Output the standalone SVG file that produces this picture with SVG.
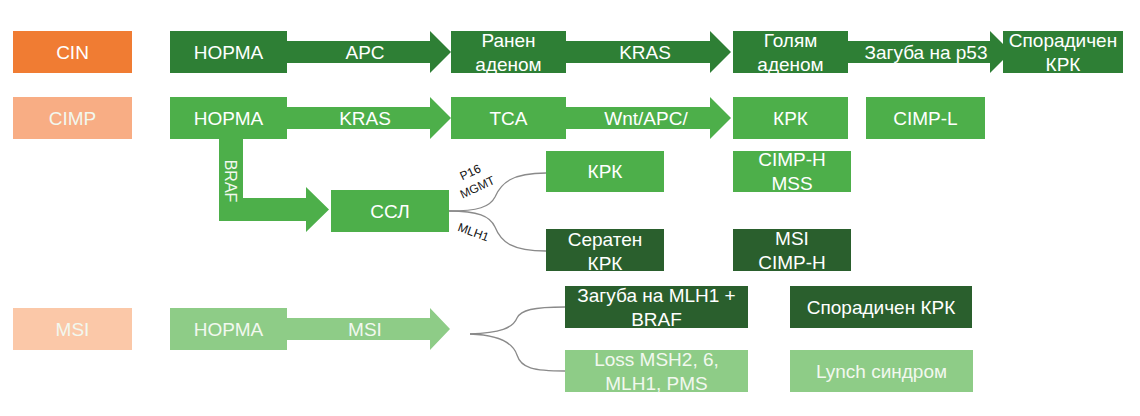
<svg xmlns="http://www.w3.org/2000/svg" width="1140" height="416" viewBox="0 0 1140 416">
<style>
text{font-family:"Liberation Sans",Arial,sans-serif;font-size:19px;fill:#ffffff;text-anchor:middle}
.cin{fill:#F07C33}.cimp{fill:#F8AD84}.msi{fill:#FBC8A8}
.g1{fill:#2E7F35}.g2{fill:#4DAF4A}.g3{fill:#8ECC87}.gd{fill:#2A5F2D}
.lt{fill:#F2F8EF}
.curve{fill:none;stroke:#8A8A8A;stroke-width:1.3}
.sm{font-size:12px;fill:#111111}
</style>
<rect width="1140" height="416" fill="#ffffff"/>
<g id="connectors">
<polygon class="g1" points="280,41 430,41 430,31 451,52 430,73 430,63 280,63"/>
<polygon class="g1" points="560,41 710,41 710,31 731,52 710,73 710,63 560,63"/>
<polygon class="g1" points="845,41 990,41 990,31 1011,52 990,73 990,63 845,63"/>
<polygon class="g2" points="280,107 430,107 430,97 451,118 430,139 430,129 280,129"/>
<polygon class="g2" points="560,107 710,107 710,97 731,118 710,139 710,129 560,129"/>
<polygon class="g2" points="219,135 243,135 243,198 306,198 306,187 329,209.5 306,232 306,221 219,221"/>
<polygon class="g3" points="280,318 430,318 430,308 450,329 430,350 430,340 280,340"/>
<path class="curve" d="M449,211 C478,211 490,207 495,197 C501,183 512,173 546,173"/>
<path class="curve" d="M449,211 C478,211 490,216 495,227 C501,242 512,251 546,251"/>
<path class="curve" d="M470,334 C500,333 513,328 517,318 C521,310 533,307 565,307"/>
<path class="curve" d="M470,334 C500,335 513,343 517,355 C521,368 533,371 565,371"/>
<text x="365" y="59">APC</text>
<text x="645" y="59">KRAS</text>
<text x="926" y="59">Загуба на p53</text>
<text x="365" y="125">KRAS</text>
<text x="646" y="125">Wnt/APC/</text>
<text class="lt" x="365" y="336">MSI</text>
<text class="lt" transform="translate(225,181) rotate(90)" style="font-size:16px">BRAF</text>
<text class="sm" transform="translate(472,176) rotate(-25)">P16</text>
<text class="sm" transform="translate(479,191) rotate(-25)">MGMT</text>
<text class="sm" transform="translate(472,236) rotate(20)">MLH1</text>
</g>
<g id="cin"><rect class="cin" x="13" y="31" width="119" height="42"/><text x="72.5" y="59">CIN</text></g>
<g id="cimp"><rect class="cimp" x="13" y="97" width="119" height="42"/><text class="lt" x="72.5" y="125">CIMP</text></g>
<g id="msi"><rect class="msi" x="13" y="308" width="119" height="42"/><text class="lt" x="72.5" y="336">MSI</text></g>
<g id="norma1"><rect class="g1" x="170" y="31" width="117" height="42"/><text x="228.5" y="59">НОРМА</text></g>
<g id="early"><rect class="g1" x="451" y="31" width="115" height="42"/><text x="508.5" y="47">Ранен</text><text x="508.5" y="71">аденом</text></g>
<g id="large"><rect class="g1" x="733" y="31" width="115" height="42"/><text x="790.5" y="47">Голям</text><text x="790.5" y="71">аденом</text></g>
<g id="sporadic1"><rect class="g1" x="1003" y="31" width="120" height="42"/><text x="1063" y="47">Спорадичен</text><text x="1063" y="71">КРК</text></g>
<g id="norma2"><rect class="g2" x="170" y="97" width="117" height="42"/><text x="228.5" y="125">НОРМА</text></g>
<g id="tca"><rect class="g2" x="451" y="97" width="115" height="42"/><text x="508.5" y="125">TCA</text></g>
<g id="krk1"><rect class="g2" x="733" y="97" width="115" height="42"/><text x="790.5" y="125">КРК</text></g>
<g id="cimpl"><rect class="g2" x="866" y="97" width="119" height="42"/><text x="925.5" y="125">CIMP-L</text></g>
<g id="ssl"><rect class="g2" x="331" y="190" width="118" height="42"/><text x="390" y="218">ССЛ</text></g>
<g id="krk2"><rect class="g2" x="546" y="151" width="118" height="41"/><text x="605" y="178">КРК</text></g>
<g id="serrated"><rect class="gd" x="546" y="229" width="118" height="42"/><text x="605" y="246">Сератен</text><text x="605" y="270">КРК</text></g>
<g id="cimph-mss"><rect class="g2" x="733" y="151" width="118" height="41"/><text x="792" y="166">CIMP-H</text><text x="792" y="190">MSS</text></g>
<g id="msi-cimph"><rect class="gd" x="733" y="229" width="118" height="42"/><text x="792" y="245">MSI</text><text x="792" y="269">CIMP-H</text></g>
<g id="norma3"><rect class="g3" x="170" y="308" width="117" height="42"/><text class="lt" x="228.5" y="336">НОРМА</text></g>
<g id="loss-mlh1"><rect class="gd" x="565" y="286" width="183" height="42"/><text x="656.5" y="302">Загуба на MLH1 +</text><text x="656.5" y="326">BRAF</text></g>
<g id="loss-msh2"><rect class="g3" x="565" y="350" width="183" height="42"/><text class="lt" x="656.5" y="366">Loss MSH2, 6,</text><text class="lt" x="656.5" y="390">MLH1, PMS</text></g>
<g id="sporadic2"><rect class="gd" x="790" y="286" width="182" height="42"/><text x="881" y="314">Спорадичен КРК</text></g>
<g id="lynch"><rect class="g3" x="790" y="350" width="183" height="42"/><text class="lt" x="881.5" y="378">Lynch синдром</text></g>
</svg>
